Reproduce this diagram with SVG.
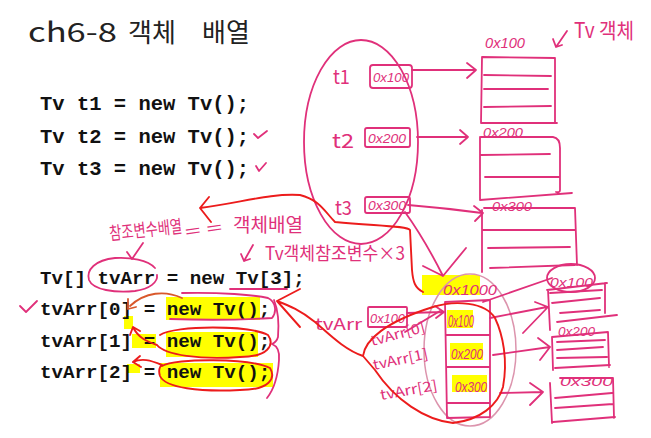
<svg xmlns="http://www.w3.org/2000/svg" width="651" height="438" viewBox="0 0 651 438">
<defs>
<style>
.pk{fill:none;stroke:#e0307a;stroke-width:1.8;stroke-linecap:round;stroke-linejoin:round}
.pkf{fill:none;stroke:#dc94ad;stroke-width:1.5}
.rd{fill:none;stroke:#ec1c1c;stroke-width:1.9;stroke-linecap:round;stroke-linejoin:round}
.or{fill:none;stroke:#d9582b;stroke-width:1.8;stroke-linecap:round;stroke-linejoin:round}
.hl{fill:#ffff00}
.code{font-family:"Liberation Mono",monospace;font-weight:bold;fill:#111}
.hand{font-family:"Noto Sans CJK KR","Liberation Sans",sans-serif;fill:#e0307a}
.addr{font-family:"Liberation Sans",sans-serif;fill:#e0307a;font-style:italic}
</style>
</defs>
<rect width="651" height="438" fill="#ffffff"/>

<!-- highlights -->
<g id="highlights">
<rect class="hl" x="166" y="297" width="94" height="23"/>
<rect class="hl" x="124" y="316" width="9" height="13"/>
<rect class="hl" x="166" y="332" width="92" height="25"/>
<rect class="hl" x="132" y="334" width="24" height="14"/>
<rect class="hl" x="160" y="363" width="113" height="24"/>
<rect class="hl" x="127" y="364" width="13" height="9"/>
<rect class="hl" x="422" y="275" width="58" height="20"/>
<rect class="hl" x="447" y="310" width="26" height="18"/>
<rect class="hl" x="450" y="343" width="33" height="17"/>
<rect class="hl" x="452" y="375" width="35" height="17"/>
</g>

<g id="title">
<text x="28" y="42" font-family="Noto Sans CJK KR,Liberation Sans,sans-serif" font-size="27" fill="#222" textLength="89" lengthAdjust="spacingAndGlyphs">ch6-8</text>
<text x="128" y="42" font-family="Noto Sans CJK KR,sans-serif" font-size="26" fill="#222">객체</text>
<text x="202" y="42" font-family="Noto Sans CJK KR,sans-serif" font-size="26" fill="#222">배열</text>
</g>

<g id="code-vars">
<text class="code" x="40" y="110" font-size="20.5">Tv t1 = new Tv();</text>
<text class="code" x="40" y="143" font-size="20.5">Tv t2 = new Tv();</text>
<text class="code" x="40" y="175" font-size="20.5">Tv t3 = new Tv();</text>
</g>

<g id="code-array">
<text class="code" x="40" y="284" font-size="19.2">Tv[] tvArr = new Tv[3];</text>
<text class="code" x="40" y="315" font-size="19.2">tvArr[0] = new Tv();</text>
<text class="code" x="40" y="347" font-size="19.2">tvArr[1] = new Tv();</text>
<text class="code" x="40" y="378" font-size="19.2">tvArr[2] = new Tv();</text>
</g>

<g id="notes">
<path class="pk" d="M254,134 L258,138 L267,131"/>
<path class="pk" d="M256,166 L259,171 L266,163"/>
<path class="pk" d="M20,306 L26,312 L37,301"/>
<path class="pk" d="M230,289 L287,289"/>
<path class="pk" d="M155,268 C148,260 130,257 115,258 C95,260 86,270 89,280 C93,290 115,293 135,291 C150,289 158,282 157,275"/>
<path class="pk" d="M182,293 C220,292 255,295 268,298 C276,302 277,312 272,318 C240,320 200,320 170,319"/>
<path class="pk" d="M274,300 C278,310 279,325 278,337 C277,341 274,343 272,344 C277,346 280,350 279,360 C278,375 275,388 267,398"/>
<text class="hand" x="110" y="240" font-size="18" textLength="73" lengthAdjust="spacingAndGlyphs" transform="rotate(-6 110 240)">참조변수배열</text>
<text class="hand" x="186" y="238" font-size="16" textLength="37" lengthAdjust="spacingAndGlyphs" transform="rotate(-8 186 238)">= =</text>
<text class="hand" x="233" y="232" font-size="19" textLength="70" lengthAdjust="spacingAndGlyphs">객체배열</text>
<path class="pk" d="M143,243 L132,259 M127,252 L132,259"/>
<path class="pk" d="M253,245 L244,261 M241,254 L244,261 L250,259"/>
<text class="hand" x="265" y="260" font-size="18" textLength="140" lengthAdjust="spacingAndGlyphs">Tv객체참조변수×3</text>
<path class="pk" d="M567,31 L556,47 M553,39 L556,47 L562,45"/>
<text class="hand" x="574" y="38" font-size="21" textLength="60" lengthAdjust="spacingAndGlyphs">Tv 객체</text>
</g>

<g id="var-group">
<ellipse class="pk" cx="361" cy="142" rx="57" ry="102"/>
</g>
<g id="t1">
<text class="hand" x="333" y="84" font-size="19" textLength="17" lengthAdjust="spacingAndGlyphs">t1</text>
<rect class="pk" x="370" y="65" width="42" height="23" rx="3"/>
<text class="addr" x="373" y="82" font-size="13" textLength="36" lengthAdjust="spacingAndGlyphs">0x100</text>
</g>
<g id="t2">
<text class="hand" x="332" y="148" font-size="19" textLength="22" lengthAdjust="spacingAndGlyphs">t2</text>
<rect class="pk" x="365" y="128" width="45" height="19" rx="2"/>
<text class="addr" x="368" y="143" font-size="13" textLength="38" lengthAdjust="spacingAndGlyphs">0x200</text>
</g>
<g id="t3">
<text class="hand" x="335" y="215" font-size="19" textLength="17" lengthAdjust="spacingAndGlyphs">t3</text>
<rect class="pk" x="365" y="197" width="45" height="16" rx="2"/>
<text class="addr" x="368" y="210" font-size="12" textLength="38" lengthAdjust="spacingAndGlyphs">0x300</text>
</g>

<g id="tv-obj-1">
<text class="addr" x="485" y="48" font-size="14" textLength="40" lengthAdjust="spacingAndGlyphs">0x100</text>
<path class="pk" d="M482,57 L555,58 L555,123 M482,57 L481,123 L557,123 M484,75 L551,76 M484,89 L548,89 M484,107 L551,106"/>
</g>
<g id="tv-obj-2">
<text class="addr" x="483" y="137" font-size="13" textLength="40" lengthAdjust="spacingAndGlyphs">0x200</text>
<path class="pk" d="M481,137 L553,137 Q560,138 560,148 L560,190 Q560,193 556,192 M480,137 L480,200 M480,200 L572,193 M481,155 L550,154 M485,177 L560,177"/>
</g>
<g id="tv-obj-3">
<text class="addr" x="492" y="211" font-size="13" textLength="40" lengthAdjust="spacingAndGlyphs">0x300</text>
<path class="pk" d="M484,208 L575,208 L577,265 M482,210 L482,272 M482,230 L575,230 M488,248 L570,247 M490,268 L575,265"/>
</g>

<g id="tvArr">
<text class="hand" x="315" y="330" font-size="16" textLength="47" lengthAdjust="spacingAndGlyphs">tvArr</text>
<rect class="pk" x="368" y="307" width="39" height="20" rx="1"/>
<text class="addr" x="370" y="323" font-size="13" textLength="35" lengthAdjust="spacingAndGlyphs">0x100</text>
</g>

<g id="array">
<ellipse class="pkf" cx="470" cy="350" rx="46" ry="76"/>
<text class="addr" x="443" y="295" font-size="14" textLength="54" lengthAdjust="spacingAndGlyphs">0x1000</text>
<path class="pk" d="M445,302 L490,300 L490,417 L447,418 Z M446,335 L490,335 M447,367 L490,367 M448,403 L490,403"/>
<text class="addr" x="448" y="327" font-size="17" textLength="26" lengthAdjust="spacingAndGlyphs">0x100</text>
<text class="addr" x="451" y="359" font-size="14" textLength="32" lengthAdjust="spacingAndGlyphs">0x200</text>
<text class="addr" x="455" y="392" font-size="15" textLength="32" lengthAdjust="spacingAndGlyphs">0x300</text>
<text class="hand" x="372" y="346" font-size="14" textLength="56" lengthAdjust="spacingAndGlyphs" transform="rotate(-15 372 346)">tvArr[0]</text>
<text class="hand" x="374" y="370" font-size="14" textLength="56" lengthAdjust="spacingAndGlyphs" transform="rotate(-12 374 370)">tvArr[1]</text>
<text class="hand" x="381" y="400" font-size="14" textLength="58" lengthAdjust="spacingAndGlyphs" transform="rotate(-10 381 400)">tvArr[2]</text>
</g>

<g id="tv-obj-a">
<ellipse class="pk" cx="571" cy="278" rx="24" ry="14"/>
<text class="addr" x="550" y="287" font-size="13" textLength="43" lengthAdjust="spacingAndGlyphs">0x100</text>
<path class="pk" d="M548,290 L550,330 M547,290 L607,283 M605,283 L605,313 M550,293 L602,290 M552,303 L600,298 M560,313 L600,310 M557,322 L617,315"/>
</g>
<g id="tv-obj-b">
<text class="addr" x="558" y="336" font-size="13" textLength="37" lengthAdjust="spacingAndGlyphs">0x200</text>
<path class="pk" d="M552,337 L553,370 M552,337 L608,332 L609,367 M557,342 L605,340 M557,350 L603,347 M557,358 L607,357 M555,368 L610,365"/>
</g>
<g id="tv-obj-c">
<text class="addr" x="560" y="386" font-size="13" textLength="53" lengthAdjust="spacingAndGlyphs">0x300</text>
<path class="pk" d="M550,383 L552,423 M560,378 L613,378 L614,418 M555,398 L612,393 M555,408 L613,404 M553,422 L615,417"/>
</g>

<g id="connectors">
<path class="pk" d="M412,70 L475,70 M467,63 L476,70 L467,78"/>
<path class="pk" d="M417,137 L467,137 M460,130 L468,137 L460,144"/>
<path class="pk" d="M408,205 Q445,208 482,213 M474,206 L483,213 L475,221"/>
<path class="pk" d="M405,212 Q425,240 443,276 M423,266 L443,276 L466,248"/>
<path class="pk" d="M407,313 L443,312 M435,306 L444,312 L436,318"/>
<path class="pk" d="M405,332 L440,311"/>
<path class="pk" d="M490,318 L547,307 M535,302 L548,307 L523,333"/>
<path class="pk" d="M483,302 L552,278"/>
<path class="pk" d="M493,355 L550,347 M538,338 L550,347 L540,360"/>
<path class="pk" d="M500,393 L543,392 M530,383 L543,392 L530,405"/>
<path class="rd" d="M423,292 C415,288 413,282 412,270 L410,230 C408,226 380,226 335,222 C325,212 320,200 300,195 C270,193 240,203 200,208 M209,197 L200,208 L211,222"/>
<path class="rd" d="M300,289 L277,301 L300,327 M277,301 C290,306 300,310 315,322 C330,335 345,350 363,356 C365,340 385,322 433,307 C455,300 485,302 495,318 C503,335 508,360 503,387 C498,405 480,420 453,423 C425,420 395,400 375,370 L363,356"/>
<path class="rd" d="M160,335 C175,325 250,325 268,335 C275,345 268,357 240,357 C200,360 165,355 157,345 C148,342 138,338 133,327 M130,335 L133,327 L140,331"/>
<path class="rd" d="M162,366 C175,358 250,358 270,368 C276,378 270,390 240,390 C200,392 165,388 160,376 C158,370 160,366 162,365 C150,360 142,358 133,362 M140,356 L133,362 L141,367"/>
<path class="or" d="M182,298 C165,290 145,292 130,306 M128,299 L128,309 L136,307"/>
</g>
</svg>
